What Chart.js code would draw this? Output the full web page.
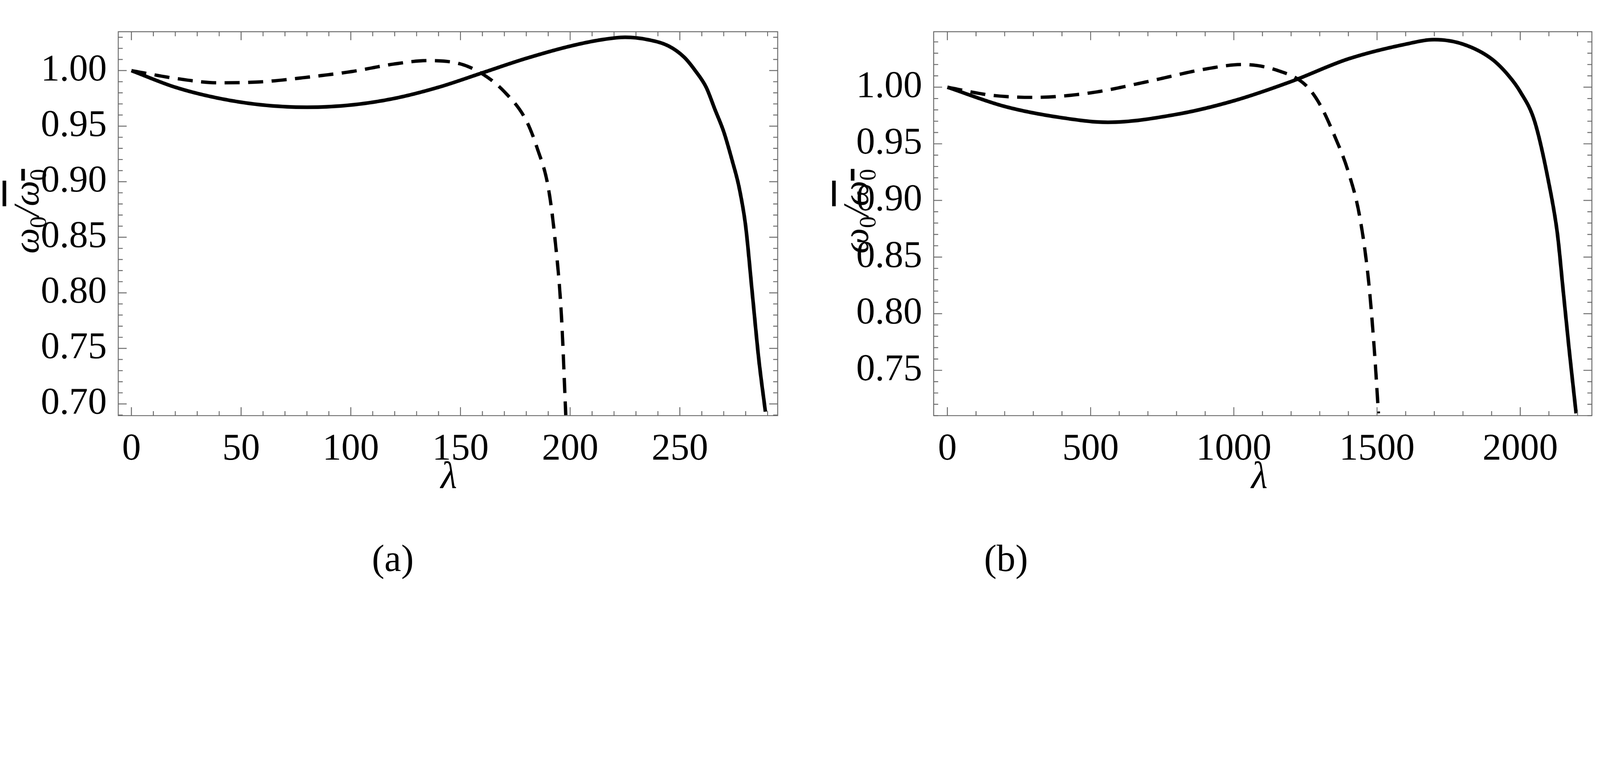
<!DOCTYPE html>
<html><head><meta charset="utf-8">
<script src="https://cdn.jsdelivr.net/npm/chart.js@4"></script>
<style>
html,body{margin:0;background:#fff;overflow:hidden;}
#root{position:absolute;left:0;top:0;width:5304px;height:1942px;transform-origin:0 0;font-family:"Liberation Serif",serif;background:#fff;}
.c{position:absolute;top:0;height:1700px;}
.t{position:absolute;font-family:"Liberation Serif",serif;color:#000;white-space:nowrap;transform:translate(-50%,-50%);}
.yt{transform:translate(-50%,-50%) rotate(-90deg);font-style:italic;}
.ov{text-decoration:overline;}
sub{font-size:0.65em;font-style:normal;}
</style></head><body>
<div id="root">
<div class="c" style="left:0;width:2640px"><canvas id="a"></canvas></div>
<div class="c" style="left:2660px;width:2644px"><canvas id="b"></canvas></div>
<div class="t" style="left:1488px;top:1575px;font-size:125px;font-style:italic">λ</div>
<div class="t" style="left:4175px;top:1575px;font-size:125px;font-style:italic">λ</div>
<div class="t" style="left:1302px;top:1850px;font-size:125px">(a)</div>
<div class="t" style="left:3335px;top:1850px;font-size:125px">(b)</div>
<div class="t yt" style="left:95px;top:700px;font-size:120px">ω<sub>0</sub>/<span class="ov">ω<sub>0</sub></span></div>
<div class="t yt" style="left:2845px;top:700px;font-size:120px">ω<sub>0</sub>/<span class="ov">ω<sub>0</sub></span></div>
</div>
<script>
// Panel (a)
const aSolidX=[0,20,40,60,80,100,120,140,160,180,200,215,225,235,245,252,257,262,266,270,274,277,280,283,286,289];
const aSolidY=[1.0,0.985,0.975,0.969,0.967,0.969,0.975,0.985,0.998,1.011,1.022,1.028,1.030,1.028,1.022,1.012,1.0,0.985,0.965,0.945,0.918,0.895,0.86,0.80,0.74,0.693];
const aDashX=[0,20,40,60,80,100,120,135,150,160,170,180,185,190,193,196,198];
const aDashY=[1.0,0.993,0.989,0.990,0.994,0.999,1.006,1.009,1.006,0.997,0.981,0.955,0.93,0.895,0.85,0.78,0.69];
// Panel (b)
const bSolidX=[0,200,400,560,800,1000,1200,1400,1600,1700,1800,1900,1960,2000,2050,2100,2130,2150,2170,2185,2195];
const bSolidY=[1.0,0.983,0.973,0.969,0.976,0.988,1.005,1.025,1.038,1.042,1.038,1.025,1.01,0.996,0.97,0.915,0.87,0.82,0.77,0.735,0.712];
const bDashX=[0,150,300,500,700,900,1030,1150,1250,1300,1350,1400,1440,1470,1490,1505];
const bDashY=[1.0,0.993,0.991,0.995,1.005,1.016,1.02,1.015,1.002,0.985,0.958,0.925,0.885,0.83,0.77,0.712];
const aXTicks=[0,50,100,150,200,250], bXTicks=[0,500,1000,1500,2000];
const aYTicks=[0.70,0.75,0.80,0.85,0.90,0.95,1.00], bYTicks=[0.75,0.80,0.85,0.90,0.95,1.00];

const sc=Math.min(window.innerWidth/5304,window.innerHeight/1942);
document.getElementById('root').style.transform='scale('+sc+')';

function pts(xs,ys){return xs.map((x,i)=>({x:x,y:ys[i]}));}
const frame={id:'frame',afterDraw(c,args,o){
  const ctx=c.ctx,a=c.chartArea,xs=c.scales.x,ys=c.scales.y;
  ctx.save();ctx.strokeStyle='#666';ctx.lineWidth=3;
  ctx.strokeRect(a.left,a.top,a.right-a.left,a.bottom-a.top);
  const t=(v,len,axis)=>{ if(axis==='x'){const p=xs.getPixelForValue(v);if(p<a.left||p>a.right)return;
      ctx.beginPath();ctx.moveTo(p,a.bottom);ctx.lineTo(p,a.bottom-len);ctx.moveTo(p,a.top);ctx.lineTo(p,a.top+len);ctx.stroke();}
    else{const p=ys.getPixelForValue(v);if(p<a.top||p>a.bottom)return;
      ctx.beginPath();ctx.moveTo(a.left,p);ctx.lineTo(a.left+len,p);ctx.moveTo(a.right,p);ctx.lineTo(a.right-len,p);ctx.stroke();}};
  for(let v=Math.ceil(xs.min/o.xm)*o.xm;v<=xs.max;v+=o.xm){const maj=Math.abs(v/o.xM-Math.round(v/o.xM))<1e-6;t(v,maj?28:15,'x');}
  for(let k=Math.ceil(ys.min*100);k<=ys.max*100;k++){const v=k/100;t(v,k%5===0?28:15,'y');}
  ctx.restore();}};
function mk(id,sx,sy,dx,dy,xmin,xmax,ymin,ymax,xt,yt,xm,xM,leftW,rightPad){
  new Chart(document.getElementById(id),{type:'scatter',
   data:{datasets:[
    {data:pts(sx,sy),showLine:true,borderColor:'#000',borderWidth:12,pointRadius:0,cubicInterpolationMode:'monotone'},
    {data:pts(dx,dy),showLine:true,borderColor:'#000',borderWidth:11,borderDash:[50,28],pointRadius:0,cubicInterpolationMode:'monotone'}]},
   options:{responsive:true,maintainAspectRatio:false,animation:false,devicePixelRatio:1,
    layout:{padding:{top:34,right:rightPad,left:0,bottom:0}},
    plugins:{legend:{display:false},tooltip:{enabled:false},frame:{xm:xm,xM:xM}},
    scales:{
     x:{type:'linear',min:xmin,max:xmax,afterBuildTicks:s=>{s.ticks=xt.map(v=>({value:v}));},
        grid:{display:false},border:{display:false},
        ticks:{callback:v=>String(v),font:{family:'Liberation Serif',size:125},color:'#000',padding:30,maxRotation:0,autoSkip:false},
        afterFit:s=>{s.height=1700-1377;}},
     y:{type:'linear',min:ymin,max:ymax,afterBuildTicks:s=>{s.ticks=yt.map(v=>({value:v}));},
        ticks:{callback:v=>v.toFixed(2),font:{family:'Liberation Serif',size:125},color:'#000',padding:30,autoSkip:false},
        grid:{display:false},border:{display:false},afterFit:s=>{s.width=leftW;}}}},
   plugins:[frame]});
}
mk('a',aSolidX,aSolidY,aDashX,aDashY,-6,294.6,0.6895,1.035,aXTicks,aYTicks,10,50,392,62);
mk('b',bSolidX,bSolidY,bDashX,bDashY,-48,2250,0.71,1.049,bXTicks,bYTicks,100,500,435,27);
</script></body></html>
